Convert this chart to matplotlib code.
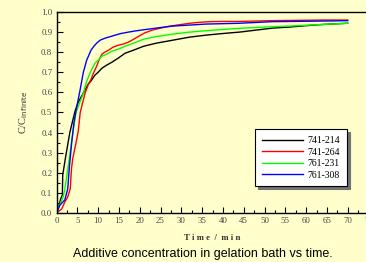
import matplotlib
matplotlib.use('Agg')
import matplotlib.pyplot as plt
from matplotlib.ticker import MultipleLocator

# ---- data ----
t_214 = [0, 0.5, 1.0, 1.4, 1.5, 2.2, 2.7, 3.2, 3.9, 4.5, 5.2, 6.0, 6.8, 7.6, 8.4, 9.2, 10.0,
         10.9, 12.0, 13.3, 14.8, 16.5, 18.5, 21, 24, 28, 32, 36, 40, 44, 48, 52, 56, 60, 64, 67, 70]
v_214 = [0, 0.03, 0.07, 0.09, 0.19, 0.28, 0.34, 0.40, 0.46, 0.51, 0.55, 0.58, 0.61, 0.64, 0.66,
         0.685, 0.70, 0.72, 0.735, 0.75, 0.77, 0.795, 0.81, 0.83, 0.845, 0.86, 0.875, 0.885, 0.893,
         0.90, 0.91, 0.92, 0.925, 0.932, 0.938, 0.941, 0.944]

t_264 = [0, 1.25, 2.0, 2.7, 3.3, 3.6, 3.9, 4.7, 5.25, 5.7, 6.3, 6.85, 7.65, 8.3, 8.85, 9.65, 10.2,
         10.9, 11.6, 12.5, 13.6, 14.9, 16.0, 17.3, 19, 21.1, 23, 26.5, 29, 32.1, 34, 36.9, 40, 44,
         48, 52, 56, 60, 64, 67, 70]
v_264 = [0, 0.02, 0.055, 0.08, 0.12, 0.22, 0.27, 0.35, 0.41, 0.50, 0.55, 0.595, 0.64, 0.665, 0.695,
         0.73, 0.76, 0.79, 0.80, 0.81, 0.825, 0.835, 0.84, 0.85, 0.87, 0.895, 0.91, 0.927, 0.935,
         0.944, 0.948, 0.952, 0.953, 0.953, 0.955, 0.957, 0.958, 0.959, 0.96, 0.96, 0.96]

t_231 = [0, 0.3, 1.1, 1.6, 2.0, 2.45, 3.25, 4.0, 4.7, 5.25, 5.8, 6.45, 7.25, 8.05, 8.6, 9.25, 10.0,
         10.9, 12.0, 13.3, 14.8, 16.5, 18.5, 21, 24, 28, 32, 36, 40, 44, 48, 52, 56, 60, 64, 67, 70]
v_231 = [0, 0.02, 0.056, 0.08, 0.12, 0.18, 0.30, 0.41, 0.50, 0.53, 0.56, 0.595, 0.655, 0.695, 0.72,
         0.745, 0.76, 0.78, 0.79, 0.805, 0.815, 0.83, 0.845, 0.865, 0.878, 0.89, 0.90, 0.907, 0.913,
         0.919, 0.923, 0.927, 0.93, 0.934, 0.938, 0.941, 0.944]

t_308 = [0, 0.85, 2.0, 2.7, 3.1, 3.65, 4.2, 4.7, 5.65, 6.45, 7.25, 8.3, 9.0, 9.65, 10.5, 11.7, 13.0,
         14.1, 15.5, 17.3, 19, 21.1, 24, 28, 32, 36, 40, 44, 48, 52, 56, 60, 64, 67, 70]
v_308 = [0, 0.04, 0.065, 0.12, 0.23, 0.35, 0.45, 0.51, 0.61, 0.70, 0.76, 0.81, 0.83, 0.845, 0.86,
         0.87, 0.878, 0.885, 0.893, 0.90, 0.906, 0.912, 0.92, 0.93, 0.935, 0.94, 0.942, 0.944, 0.948,
         0.952, 0.953, 0.954, 0.955, 0.956, 0.957]

series = [('741-214', t_214, v_214, '#000000'),
          ('741-264', t_264, v_264, '#FF0000'),
          ('761-231', t_231, v_231, '#00FF00'),
          ('761-308', t_308, v_308, '#0000FF')]

bg = '#FFFFCC'
serif = ['Liberation Serif', 'DejaVu Serif']

fig = plt.figure(figsize=(3.66, 2.62), dpi=100, facecolor=bg)
ax = fig.add_axes([56.5 / 366, 49 / 262, 312 / 366, 201 / 262])
ax.set_facecolor(bg)

for name, t, v, c in series:
    ax.plot(t, v, color=c, linewidth=1.0, label=name)

ax.set_xlim(0, 75)
ax.set_ylim(0, 1.0)
ax.xaxis.set_major_locator(MultipleLocator(5))
ax.xaxis.set_minor_locator(MultipleLocator(2.5))
ax.yaxis.set_major_locator(MultipleLocator(0.1))
ax.yaxis.set_minor_locator(MultipleLocator(0.05))
ax.yaxis.set_major_formatter(plt.FormatStrFormatter('%.1f'))
ax.tick_params(which='both', direction='in', top=False, right=False,
               labelsize=6.3, labelcolor='#444444', width=0.8)
ax.tick_params(which='major', length=4, pad=3)
ax.tick_params(which='minor', length=2)
for lab in ax.get_xticklabels() + ax.get_yticklabels():
    lab.set_family(serif)
for s in ax.spines.values():
    s.set_linewidth(1.0)

ax.set_xlabel('T i m e  /  m i n', family=serif, fontsize=6.3, fontweight='bold',
              color='#333333', labelpad=6)
ax.set_ylabel(r'C/C$_{\mathrm{infinite}}$', family=serif, fontsize=7.5,
              color='#333333', labelpad=8)

leg = ax.legend(loc='upper right', bbox_to_anchor=(0.947, 0.44), fancybox=False,
                shadow={'color': '0.45', 'alpha': 1}, framealpha=1, edgecolor='black',
                prop={'family': serif, 'size': 7}, handlelength=4.2,
                labelspacing=0.25, borderpad=0.7, handletextpad=0.5)
leg.get_frame().set_linewidth(0.8)

fig.text(203 / 366, 8 / 262, 'Additive concentration in gelation bath vs time.',
         ha='center', va='center', fontsize=9, family=['Liberation Sans', 'DejaVu Sans'])

fig.savefig('out.png', dpi=100, facecolor=bg)
